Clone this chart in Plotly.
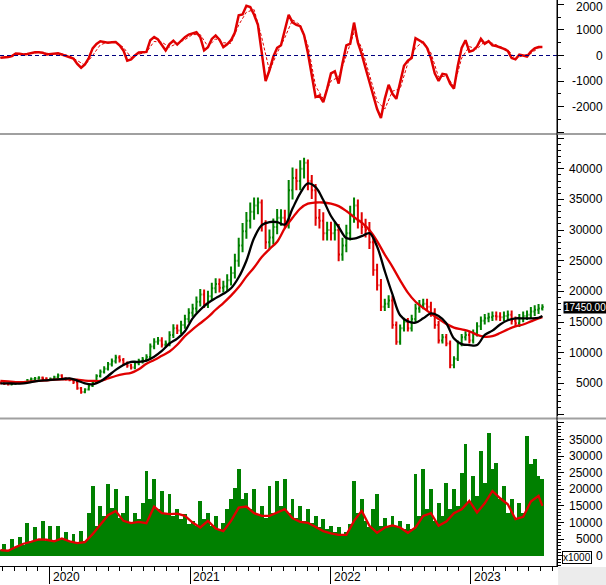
import plotly.graph_objects as go
import pandas as pd

# ---------------- data ----------------
dates = pd.date_range("2019-08-26", periods=142, freq="10D")
ma_dates = list(dates[::2]) + [dates[-1]]

close = [5000,4900,4800,4900,5000,5100,5200,5500,5700,5800,
         5900,5800,5600,5700,6000,6300,5800,5700,5600,5200,
         4200,3600,4000,4600,5100,6200,6900,7400,8100,8600,
         9200,8800,8200,7900,7600,8300,8600,8900,9300,11000,
         11800,12000,11300,11500,12900,14000,13600,14500,15500,16500,
         17200,18300,19500,18000,19200,20500,21200,20600,20800,21800,
         23000,25000,27500,29800,31500,33000,34000,34500,31000,28000,
         28800,30500,32000,32000,31500,36500,38500,38000,40000,41000,
         38000,36500,32000,31500,29500,30000,29500,30000,26000,27500,
         29500,32500,34000,31500,30500,30000,28000,23500,21000,17500,
         18000,18500,14500,11800,14000,15000,14000,15500,17200,17800,
         18000,17500,16500,14500,12000,12500,11500,8000,9000,11500,
         12500,12900,12000,13200,14300,15200,15600,15800,16000,15900,
         15800,16000,16200,15200,14800,15600,16000,16200,16700,17000,
         17200,17450]

open_ = [5100,5000,4900,4800,4900,5000,5100,5200,5500,5700,
         5800,5900,5800,5600,5700,6000,6300,5800,5700,5600,
         5200,4200,3600,4000,4600,5100,6200,6900,7400,8100,
         8600,9200,8800,8200,7900,7600,8300,8600,8900,9300,
         11000,11800,12000,11300,11500,12900,14000,13600,14500,15500,
         16500,17200,18300,19500,18000,19200,20500,21200,20600,20800,
         21800,23000,25000,27500,29800,31500,33000,34000,34500,31000,
         28000,28800,30500,32000,32000,31500,36500,38500,38000,40000,
         41000,38000,36500,32000,31500,29500,30000,29500,30000,26000,
         27500,29500,32500,34000,31500,30500,30000,28000,23500,21000,
         17500,18000,18500,14500,11800,14000,15000,14000,15500,17200,
         17800,18000,17500,16500,14500,12000,12500,11500,8000,9000,
         11500,12500,12900,12000,13200,14300,15200,15600,15800,16000,
         15900,15800,16000,16200,15200,14800,15600,16000,16200,16700,
         17000,17200]

high = [5300,5150,5050,5100,5200,5300,5400,5700,5950,6050,
        6150,6100,6000,5950,6250,6600,6500,6000,5900,5800,
        5400,4400,4200,4850,5400,6500,7250,7800,8500,9050,
        9650,9600,9150,8550,8200,8700,9000,9300,9750,11500,
        12350,12550,12500,12000,13500,14650,14600,15200,16200,17250,
        18000,19150,20400,20300,20100,21400,22150,22100,21750,22800,
        24050,26150,28750,31150,32950,34500,35300,35300,35000,31600,
        30100,31900,33450,33400,33300,38150,40200,40000,41400,41800,
        41500,39000,37500,33450,32900,31350,31350,31350,31000,28750,
        30850,33950,35300,35000,32900,31850,31300,29000,24500,22000,
        18800,19350,19300,15100,14600,15700,15650,16200,18000,18600,
        18800,18800,18300,17250,15150,13050,13050,12000,9400,12000,
        13050,13500,13500,13800,14950,15900,16300,16500,16700,16700,
        16600,16700,16900,16900,15900,16300,16700,16900,17450,17750,
        17950,17900]

low = [4850,4750,4650,4700,4800,4900,5000,5100,5350,5550,
       5600,5550,5400,5400,5500,5800,5550,5450,5350,4900,
       3950,3300,3400,3850,4400,4900,5950,6600,7100,7750,
       8250,8400,7850,7550,7250,7300,7950,8250,8550,8950,
       10550,11300,10850,10850,11050,12400,13050,13050,13900,14900,
       15850,16500,17550,17300,17300,18450,19700,19800,19800,19950,
       20950,22100,24000,26400,28600,30250,31700,32600,29750,26900,
       26900,27650,29300,30700,30250,30250,35000,36500,36500,38400,
       36500,35050,30700,30250,28300,28300,28300,28300,24900,25000,
       26400,28300,31200,30250,29300,28800,26900,22550,20150,16800,
       16800,17300,13900,11300,11300,13450,13450,13450,14900,16500,
       17100,16800,15850,13900,11500,11500,11050,7450,7450,8650,
       11050,12000,11500,11500,12650,13700,14600,14950,15150,15250,
       15150,15150,15350,14600,14200,14200,14950,15350,15550,16000,
       16300,16900]

ma_short = [5000,5000,4950,5000,5200,5400,5500,5600,5700,5800,
            5450,5000,4850,5300,6200,7200,8000,8500,8500,8700,
            9350,10300,11500,12300,13500,15600,17000,18100,18900,19600,
            20500,22300,25000,28700,30800,31300,31300,30900,33500,36000,
            37600,37000,34900,32300,30500,28700,28600,29000,29500,27300,
            23300,19500,16100,15100,14900,15600,16400,16000,14800,12300,
            11400,11250,11250,12900,13600,14600,15300,15600,15600,15600,
            15700,16000]

ma_long = [5400,5300,5200,5200,5300,5400,5500,5600,5650,5650,
           5600,5450,5400,5400,5800,6200,6500,6700,7300,8200,
           8800,9500,10200,11300,12700,13800,14800,15800,17000,18100,
           19300,20700,22400,23900,25600,26900,28100,30300,32000,33500,
           34300,34500,34500,34300,33900,33100,32100,31200,30000,28200,
           26000,24000,21800,19800,18300,17300,16400,15500,14700,14100,
           13800,13500,12900,12600,12700,13200,13800,14300,14600,15100,
           15600,15800]

macd = [-90,-80,-60,-20,80,70,40,60,110,130,
        130,110,40,60,80,90,40,-20,-60,-120,
        -330,-480,-350,-100,280,450,560,520,500,520,
        530,400,200,-200,-150,0,120,130,140,600,
        720,630,400,200,450,580,430,580,720,820,
        870,910,720,200,320,650,780,620,330,440,
        600,900,1580,1610,1950,1900,1600,1200,100,-1000,
        -580,-50,300,400,1000,1600,1300,1200,1150,800,
        100,-700,-1630,-1570,-1830,-1310,-700,-620,-1100,-300,
        400,460,1290,500,50,-500,-1000,-1500,-2100,-2450,
        -1700,-1150,-1500,-1700,-980,-400,-200,-100,680,580,
        500,300,-100,-700,-1000,-720,-750,-1100,-1300,-400,
        300,600,150,200,350,650,460,560,400,370,
        330,260,180,-100,-150,30,0,-40,150,280,
        330,330]

signal = [-80,-70,0,50,80,120,80,60,60,-20,
          -200,-380,0,420,520,520,320,-80,50,130,
          550,520,330,480,620,820,820,350,650,500,
          480,1200,1700,1800,700,-600,100,700,1400,1200,
          400,-1200,-1700,-1000,-850,0,900,300,-750,-1800,
          -2100,-1400,-1300,-300,300,550,100,-850,-800,-1200,
          -100,350,250,550,480,350,220,-120,0,80,
          300,330]

volume = [1800,3500,1700,5000,2500,5500,3300,9800,4000,8500,
          4600,10500,4400,8800,4300,9000,5300,7000,4200,6500,
          4000,7500,4500,13000,21000,9000,15000,12000,21500,14500,
          20000,11500,13000,18000,10000,13000,11000,16000,25500,17000,
          23000,14000,19500,12500,18500,12000,14000,11000,12500,9500,
          10500,9000,16500,11000,13000,8800,12000,8000,10000,14000,
          17000,20500,26000,17000,19000,14000,20000,12500,15000,11500,
          21000,13000,22500,15000,23000,13000,17000,11500,15000,10500,
          14000,10000,12000,8500,11000,8000,9000,7000,8500,6500,
          7000,9500,22500,13000,17000,10500,8500,14000,18500,9000,
          11500,8500,12000,9000,10500,8000,9500,8000,24500,12000,
          26000,14000,20000,10500,16000,12000,22000,14000,20000,15000,
          25000,33500,16000,24000,18000,31500,22000,37000,26000,28000,
          17000,21000,13000,17000,11000,16000,13000,36000,27500,29000,
          24000,23000]

vol_ma = [1700,1500,2600,3600,4200,4900,4800,4300,5200,4300,
          3800,4100,6500,9500,12200,13500,10500,9800,10200,9800,
          14800,12800,12500,12700,12000,10000,8500,10500,8200,7400,
          10500,14500,14800,12800,12000,12000,13000,14000,11300,10200,
          9900,8700,7400,6700,6300,6300,10500,13500,9000,6900,
          8500,9100,8500,6900,8500,12000,12800,9000,10300,12800,
          14000,16500,13000,15800,19500,17300,15500,11000,11700,16300,
          18000,15000]

macd_ticks = [2000, 1000, 0, -1000, -2000]
price_ticks = [40000, 35000, 30000, 25000, 20000, 15000, 10000, 5000]
vol_ticks = [35000, 30000, 25000, 20000, 15000, 10000, 5000, 0]
years = ["2020", "2021", "2022", "2023"]
last_price_label = "17450.00"

# ---------------- figure ----------------
RED = "#e00000"
GREEN = "#008000"
W, H = 606, 585
PW = 557.0   # plot area width in px
PH = 566.0   # plot area height in px
FONT = "Liberation Sans"

fig = go.Figure()

# MACD panel
fig.add_trace(go.Scatter(x=ma_dates, y=signal, mode="lines",
                         line=dict(color=RED, width=1, dash="3px,2px"),
                         yaxis="y3", hoverinfo="skip"))
fig.add_trace(go.Scatter(x=dates, y=macd, mode="lines",
                         line=dict(color=RED, width=2.5),
                         yaxis="y3", hoverinfo="skip"))

# Price panel
fig.add_trace(go.Ohlc(x=dates, open=open_, high=high, low=low, close=close,
                      increasing=dict(line=dict(color=GREEN, width=2)),
                      decreasing=dict(line=dict(color=RED, width=2)),
                      tickwidth=0.35, yaxis="y2", hoverinfo="skip"))
fig.add_trace(go.Scatter(x=ma_dates, y=ma_long, mode="lines",
                         line=dict(color=RED, width=2.3, shape="spline"),
                         yaxis="y2", hoverinfo="skip"))
fig.add_trace(go.Scatter(x=ma_dates, y=ma_short, mode="lines",
                         line=dict(color="black", width=2.3, shape="spline"),
                         yaxis="y2", hoverinfo="skip"))

# Volume panel
fig.add_trace(go.Bar(x=dates, y=volume, marker=dict(color=GREEN, line=dict(width=0)),
                     yaxis="y", hoverinfo="skip"))
fig.add_trace(go.Scatter(x=ma_dates, y=vol_ma, mode="lines",
                         line=dict(color=RED, width=2.3),
                         yaxis="y", hoverinfo="skip"))

def yax(domain, rng, dtick, minor):
    return dict(domain=domain, range=rng, side="right", anchor="x",
                showgrid=False, zeroline=False, showline=True, linecolor="black",
                linewidth=1, ticks="outside", ticklen=6, tickcolor="black",
                dtick=dtick, tick0=0, showticklabels=False,
                minor=dict(dtick=minor, ticklen=3, ticks="outside", tickcolor="black"),
                fixedrange=True)

fig.update_layout(
    width=W, height=H,
    margin=dict(l=0, r=W - PW, t=0, b=H - PH),
    paper_bgcolor="white", plot_bgcolor="white",
    showlegend=False, bargap=0,
    font=dict(family=FONT, size=12, color="black"),
    xaxis=dict(domain=[0, 1], anchor="y",
               range=["2019-08-25", "2023-08-13"],
               showgrid=False, zeroline=False, showline=True, linecolor="black",
               ticks="outside", ticklen=17, tickcolor="black",
               dtick="M12", tick0="2020-01-01", showticklabels=False,
               minor=dict(dtick="M1", ticklen=4, ticks="outside", tickcolor="black"),
               rangeslider=dict(visible=False), fixedrange=True),
    yaxis=yax([0, (PH - 421) / PH], [-3102, 40572], 5000, 1000),
    yaxis2=yax([(PH - 416) / PH, (PH - 135) / PH], [-326, 45506], 5000, 1000),
    yaxis3=yax([(PH - 133) / PH, 1], [-3039, 2176], 1000, 500),
)

ann = []
xr = 605 / PW
for v in macd_ticks:
    ann.append(dict(x=xr, xref="paper", y=v, yref="y3", text=f"{v}",
                    xanchor="right", yanchor="middle", showarrow=False,
                    yshift=-3 if v == 2000 else 0,
                    font=dict(size=12, family=FONT)))
for v in price_ticks:
    ann.append(dict(x=xr, xref="paper", y=v, yref="y2", text=f"{v}",
                    xanchor="right", yanchor="middle", showarrow=False,
                    font=dict(size=12, family=FONT)))
for v in vol_ticks:
    ann.append(dict(x=xr, xref="paper", y=v, yref="y", text=f"{v}",
                    xanchor="right", yanchor="middle", showarrow=False,
                    font=dict(size=12, family=FONT)))
for yr in years:
    ann.append(dict(x=f"{yr}-01-01", xref="x", y=-11 / PH, yref="paper", text=yr,
                    xanchor="left", yanchor="middle", xshift=1, showarrow=False,
                    font=dict(size=12, family=FONT)))
ann.append(dict(x=563 / PW, xref="paper", y=close[-1], yref="y2", text=last_price_label,
                xanchor="left", yanchor="middle", showarrow=False, bgcolor="black",
                borderpad=0, font=dict(size=10, family=FONT, color="white")))
ann.append(dict(x=562 / PW, xref="paper", y=-540, yref="y", text="x1000",
                xanchor="left", yanchor="middle", showarrow=False, bgcolor="white",
                bordercolor="black", borderwidth=1, borderpad=0,
                font=dict(size=10, family=FONT)))
fig.update_layout(annotations=ann)

shapes = [
    # zero line of the oscillator
    dict(type="line", xref="paper", x0=0, x1=1, yref="y3", y0=0, y1=0,
         line=dict(color="#000080", width=1, dash="4px,3px")),
    # panel separators
    dict(type="line", xref="paper", x0=0, x1=W / PW, yref="paper",
         y0=(PH - 134) / PH, y1=(PH - 134) / PH, line=dict(color="#a0a0a0", width=2)),
    dict(type="line", xref="paper", x0=0, x1=W / PW, yref="paper",
         y0=(PH - 418.5) / PH, y1=(PH - 418.5) / PH, line=dict(color="#a0a0a0", width=2)),
    # continuous right axis line
    dict(type="line", xref="paper", x0=1, x1=1, yref="paper", y0=0, y1=1,
         line=dict(color="black", width=1)),
    # grey corner box
    dict(type="rect", xref="paper", x0=1.002, x1=W / PW + 0.01, yref="paper",
         y0=-(H - PH) / PH - 0.01, y1=-1 / PH, fillcolor="#ececec",
         line=dict(width=0), layer="below"),
]
fig.update_layout(shapes=shapes)

fig.write_html("out.html", config={"displayModeBar": False, "staticPlot": True})
